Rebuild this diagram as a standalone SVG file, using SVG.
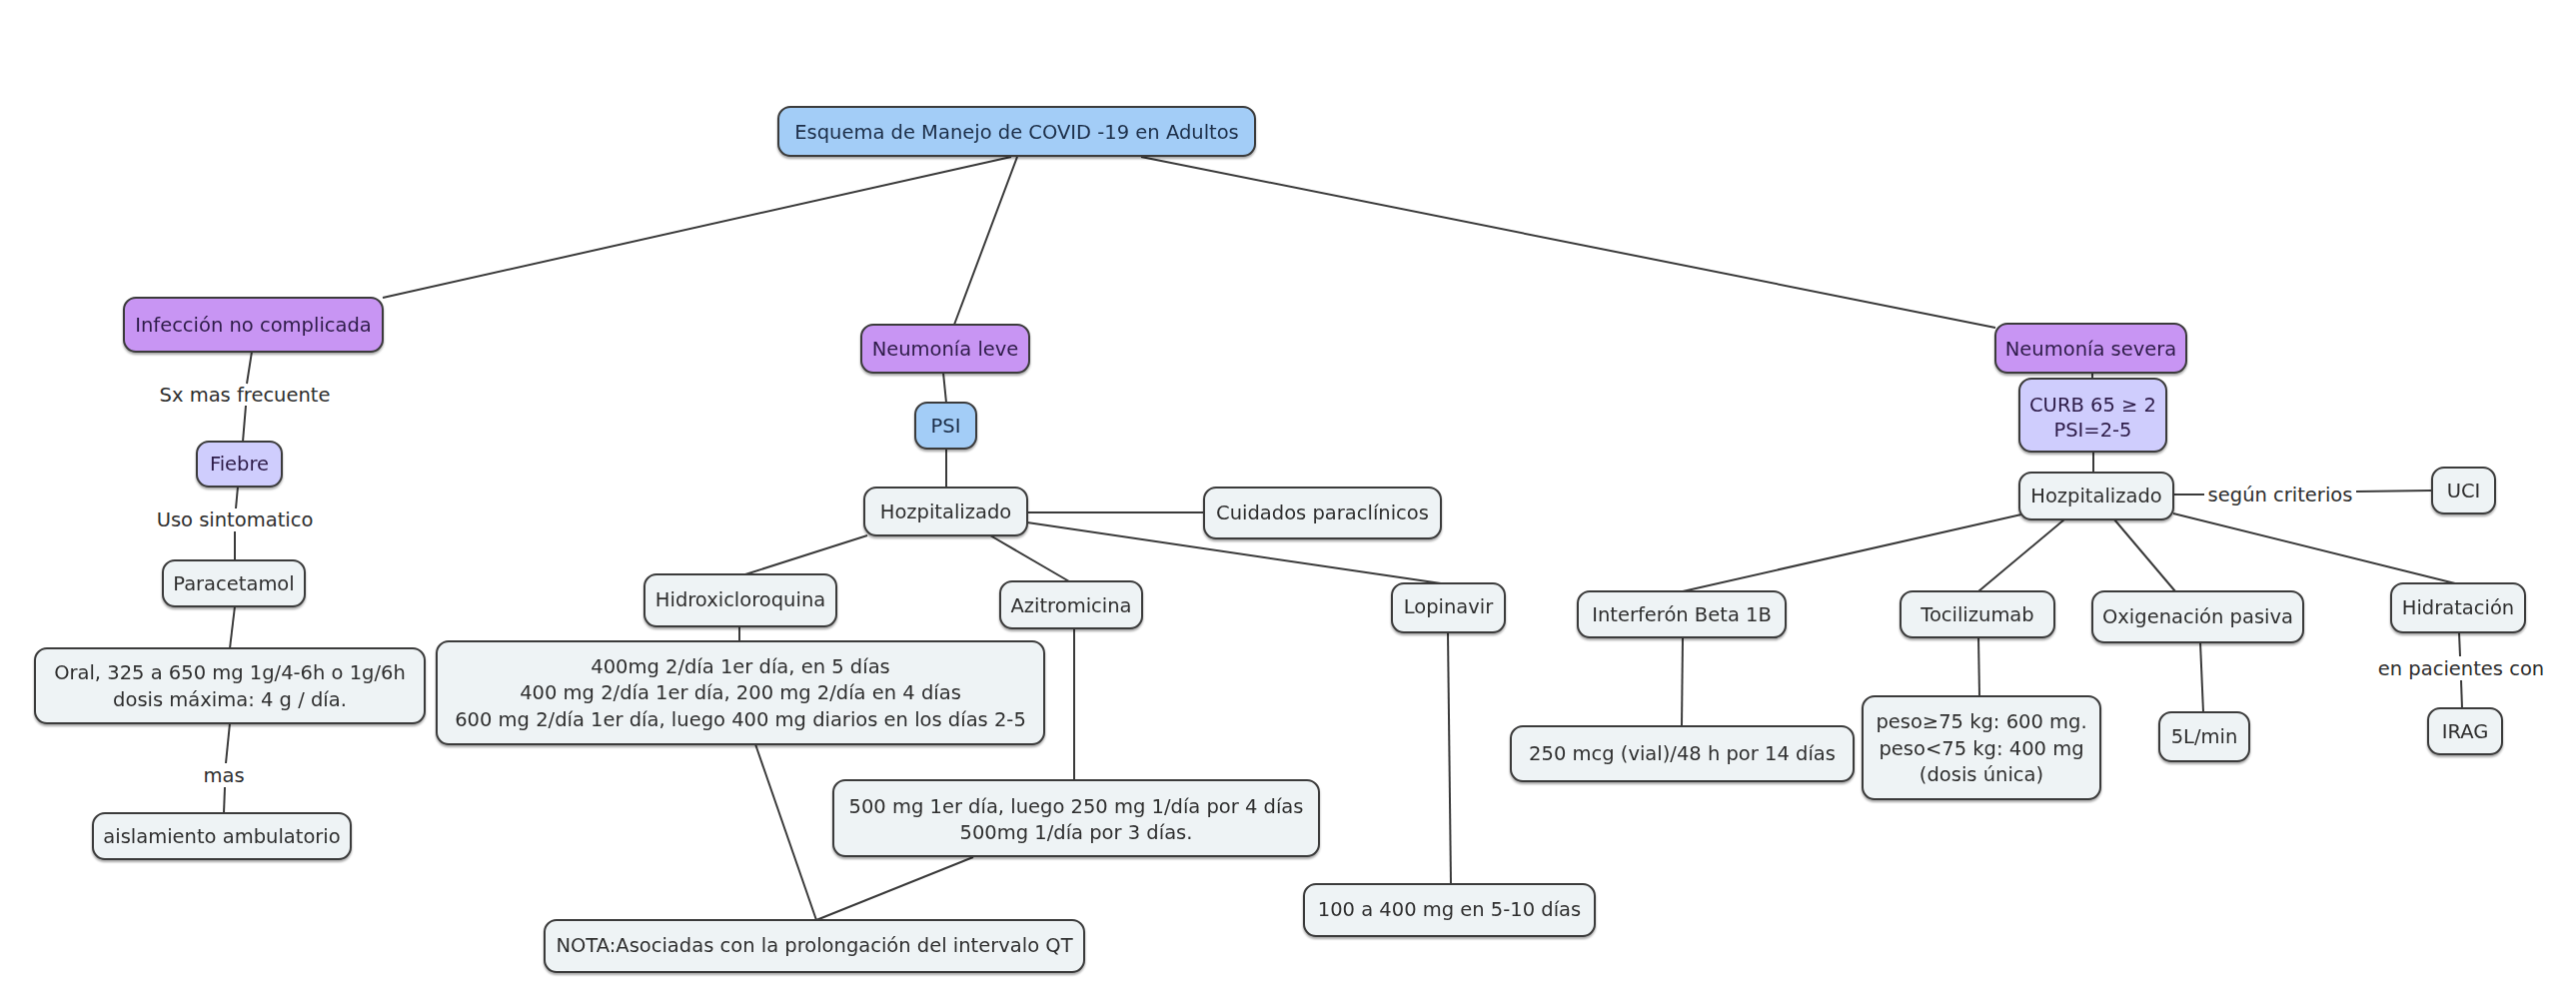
<svg xmlns="http://www.w3.org/2000/svg" width="2578" height="1002" viewBox="0 0 2578 1002">
<defs>
<style>
.bg{fill:#ffffff}
.box{stroke:#3a3a3a;stroke-width:2}
.blue{fill:#a3cdf7}
.purple{fill:#c895f3}
.lav{fill:#cfcdfd}
.light{fill:#eef3f5}
.t{font-family:"DejaVu Sans","Verdana",sans-serif;font-size:19.5px;fill:#2e2e2e;text-anchor:middle}
.tp{fill:#2e1c48}
.tb{fill:#1d2f48}
.lbl{font-family:"DejaVu Sans","Verdana",sans-serif;font-size:19.5px;fill:#2e2e2e;text-anchor:middle}
.c line{stroke:#3a3a3a;stroke-width:2;fill:none}
</style>
<filter id="sh" x="-10%" y="-10%" width="120%" height="130%">
<feDropShadow dx="0" dy="2" stdDeviation="1" flood-color="#000" flood-opacity="0.35"/>
</filter>
</defs>
<rect class="bg" x="0" y="0" width="2578" height="1002"/>

<g id="connectors" class="c">
<line x1="1012" y1="157" x2="383" y2="298"/>
<line x1="1018" y1="157" x2="955" y2="325"/>
<line x1="1142" y1="157" x2="1997" y2="328"/>
<line x1="252" y1="352" x2="247" y2="384"/>
<line x1="246" y1="406" x2="243" y2="442"/>
<line x1="238" y1="487" x2="236" y2="509"/>
<line x1="235" y1="532" x2="235" y2="561"/>
<line x1="235" y1="607" x2="230" y2="649"/>
<line x1="230" y1="724" x2="226" y2="764"/>
<line x1="225" y1="788" x2="224" y2="814"/>
<line x1="944" y1="373" x2="947" y2="403"/>
<line x1="947" y1="449" x2="947" y2="488"/>
<line x1="1028" y1="513" x2="1205" y2="513"/>
<line x1="868" y1="536" x2="746" y2="575"/>
<line x1="991" y1="536" x2="1070" y2="582"/>
<line x1="1028" y1="523" x2="1442" y2="584"/>
<line x1="740" y1="627" x2="740" y2="642"/>
<line x1="756" y1="745" x2="817" y2="921"/>
<line x1="1075" y1="629" x2="1075" y2="781"/>
<line x1="974" y1="858" x2="817" y2="921"/>
<line x1="1449" y1="633" x2="1452" y2="885"/>
<line x1="2094" y1="373" x2="2094" y2="379"/>
<line x1="2095" y1="452" x2="2095" y2="473"/>
<line x1="2175" y1="495" x2="2206" y2="495"/>
<line x1="2358" y1="492" x2="2434" y2="491"/>
<line x1="2023" y1="515" x2="1684" y2="592"/>
<line x1="2066" y1="520" x2="1980" y2="592"/>
<line x1="2116" y1="520" x2="2177" y2="592"/>
<line x1="2175" y1="514" x2="2457" y2="584"/>
<line x1="1684" y1="638" x2="1683" y2="727"/>
<line x1="1980" y1="638" x2="1981" y2="697"/>
<line x1="2202" y1="643" x2="2205" y2="713"/>
<line x1="2461" y1="633" x2="2462" y2="657"/>
<line x1="2463" y1="681" x2="2464" y2="709"/>
</g>

<g id="labels">
<text class="lbl" x="245" y="402">Sx mas frecuente</text>
<text class="lbl" x="235" y="527">Uso sintomatico</text>
<text class="lbl" x="224" y="783">mas</text>
<text class="lbl" x="2282" y="502">según criterios</text>
<text class="lbl" x="2463" y="676">en pacientes con</text>
</g>

<g id="n-title" filter="url(#sh)"><rect class="box blue" x="779" y="107" width="477" height="49" rx="12"/><text class="t tb" x="1017.5" y="139">Esquema de Manejo de COVID -19 en Adultos</text></g>
<g id="n-infeccion" filter="url(#sh)"><rect class="box purple" x="124" y="298" width="259" height="54" rx="12"/><text class="t tp" x="253.5" y="332">Infección no complicada</text></g>
<g id="n-leve" filter="url(#sh)"><rect class="box purple" x="862" y="325" width="168" height="48" rx="12"/><text class="t tp" x="946" y="356">Neumonía leve</text></g>
<g id="n-severa" filter="url(#sh)"><rect class="box purple" x="1997" y="324" width="191" height="49" rx="12"/><text class="t tp" x="2092.5" y="356">Neumonía severa</text></g>
<g id="n-fiebre" filter="url(#sh)"><rect class="box lav" x="197" y="442" width="85" height="45" rx="12"/><text class="t tp" x="239.5" y="471">Fiebre</text></g>
<g id="n-psi" filter="url(#sh)"><rect class="box blue" x="916" y="403" width="61" height="46" rx="12"/><text class="t tb" x="946.5" y="433">PSI</text></g>
<g id="n-curb" filter="url(#sh)"><rect class="box lav" x="2021" y="379" width="147" height="73" rx="12"/><text class="t tp" x="2094.5" y="412">CURB 65 ≥ 2</text><text class="t tp" x="2094.5" y="437">PSI=2-5</text></g>
<g id="n-hozp-r" filter="url(#sh)"><rect class="box light" x="2021" y="473" width="154" height="47" rx="12"/><text class="t" x="2098" y="503">Hozpitalizado</text></g>
<g id="n-uci" filter="url(#sh)"><rect class="box light" x="2434" y="468" width="63" height="46" rx="12"/><text class="t" x="2465.5" y="498">UCI</text></g>
<g id="n-hozp-l" filter="url(#sh)"><rect class="box light" x="865" y="488" width="163" height="48" rx="12"/><text class="t" x="946.5" y="519">Hozpitalizado</text></g>
<g id="n-cuidados" filter="url(#sh)"><rect class="box light" x="1205" y="488" width="237" height="51" rx="12"/><text class="t" x="1323.5" y="520">Cuidados paraclínicos</text></g>
<g id="n-paracetamol" filter="url(#sh)"><rect class="box light" x="163" y="561" width="142" height="46" rx="12"/><text class="t" x="234" y="591">Paracetamol</text></g>
<g id="n-hidroxi" filter="url(#sh)"><rect class="box light" x="645" y="575" width="192" height="52" rx="12"/><text class="t" x="741" y="607">Hidroxicloroquina</text></g>
<g id="n-azitro" filter="url(#sh)"><rect class="box light" x="1001" y="582" width="142" height="47" rx="12"/><text class="t" x="1072" y="613">Azitromicina</text></g>
<g id="n-lopinavir" filter="url(#sh)"><rect class="box light" x="1393" y="584" width="113" height="49" rx="12"/><text class="t" x="1449.5" y="614">Lopinavir</text></g>
<g id="n-oral" filter="url(#sh)"><rect class="box light" x="35" y="649" width="390" height="75" rx="12"/><text class="t" x="230" y="680">Oral, 325 a 650 mg 1g/4-6h o 1g/6h</text><text class="t" x="230" y="707">dosis máxima: 4 g / día.</text></g>
<g id="n-hidroxi-dosis" filter="url(#sh)"><rect class="box light" x="437" y="642" width="608" height="103" rx="12"/><text class="t" x="741" y="674">400mg 2/día 1er día, en 5 días</text><text class="t" x="741" y="700">400 mg 2/día 1er día, 200 mg 2/día en 4 días</text><text class="t" x="741" y="727">600 mg 2/día 1er día, luego 400 mg diarios en los días 2-5</text></g>
<g id="n-aislamiento" filter="url(#sh)"><rect class="box light" x="93" y="814" width="258" height="46" rx="12"/><text class="t" x="222" y="844">aislamiento ambulatorio</text></g>
<g id="n-azitro-dosis" filter="url(#sh)"><rect class="box light" x="834" y="781" width="486" height="76" rx="12"/><text class="t" x="1077" y="814">500 mg 1er día, luego 250 mg 1/día por 4 días</text><text class="t" x="1077" y="840">500mg 1/día por 3 días.</text></g>
<g id="n-nota" filter="url(#sh)"><rect class="box light" x="545" y="921" width="540" height="52" rx="12"/><text class="t" x="815" y="953">NOTA:Asociadas con la prolongación del intervalo QT</text></g>
<g id="n-lopinavir-dosis" filter="url(#sh)"><rect class="box light" x="1305" y="885" width="291" height="52" rx="12"/><text class="t" x="1450.5" y="917">100 a 400 mg en 5-10 días</text></g>
<g id="n-interferon" filter="url(#sh)"><rect class="box light" x="1579" y="592" width="208" height="46" rx="12"/><text class="t" x="1683" y="622">Interferón Beta 1B</text></g>
<g id="n-interferon-dosis" filter="url(#sh)"><rect class="box light" x="1512" y="727" width="343" height="55" rx="12"/><text class="t" x="1683.5" y="761">250 mcg (vial)/48 h por 14 días</text></g>
<g id="n-tocilizumab" filter="url(#sh)"><rect class="box light" x="1902" y="592" width="154" height="46" rx="12"/><text class="t" x="1979" y="622">Tocilizumab</text></g>
<g id="n-toci-dosis" filter="url(#sh)"><rect class="box light" x="1864" y="697" width="238" height="103" rx="12"/><text class="t" x="1983" y="729">peso≥75 kg: 600 mg.</text><text class="t" x="1983" y="756">peso&lt;75 kg: 400 mg</text><text class="t" x="1983" y="782">(dosis única)</text></g>
<g id="n-oxigenacion" filter="url(#sh)"><rect class="box light" x="2094" y="592" width="211" height="51" rx="12"/><text class="t" x="2199.5" y="624">Oxigenación pasiva</text></g>
<g id="n-5l" filter="url(#sh)"><rect class="box light" x="2161" y="713" width="90" height="49" rx="12"/><text class="t" x="2206" y="744">5L/min</text></g>
<g id="n-hidratacion" filter="url(#sh)"><rect class="box light" x="2393" y="584" width="134" height="49" rx="12"/><text class="t" x="2460" y="615">Hidratación</text></g>
<g id="n-irag" filter="url(#sh)"><rect class="box light" x="2430" y="709" width="74" height="46" rx="12"/><text class="t" x="2467" y="739">IRAG</text></g>
</svg>
